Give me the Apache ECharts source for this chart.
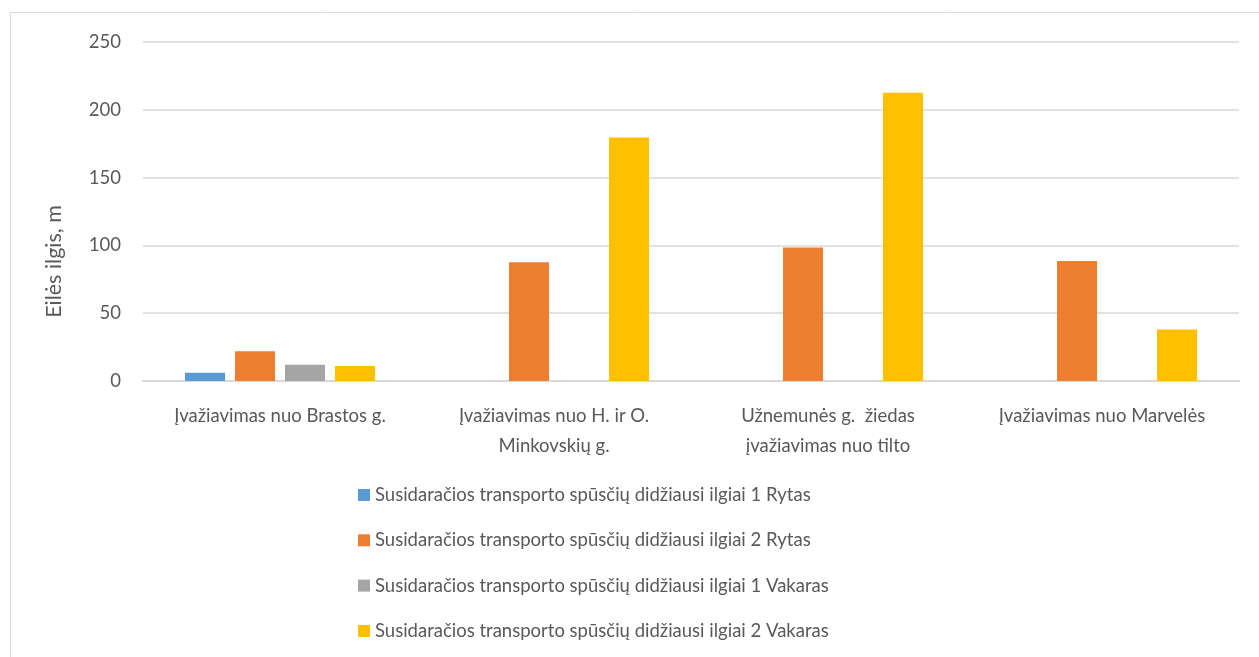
<!DOCTYPE html>
<html>
<head>
<meta charset="utf-8">
<script src="https://cdn.jsdelivr.net/npm/echarts@6/dist/echarts.min.js"></script>
<style>
html,body{margin:0;padding:0;background:#fff;}
#chart{width:1259px;height:657px;}
</style>
</head>
<body>
<div id="chart"></div>
<script>
const categories = [
  "Įvažiavimas nuo Brastos g.",
  "Įvažiavimas nuo H. ir O.\nMinkovskių g.",
  "Užnemunės g.  žiedas\nįvažiavimas nuo tilto",
  "Įvažiavimas nuo Marvelės"
];
const seriesNames = [
  "Susidaračios transporto spūsčių didžiausi ilgiai 1 Rytas",
  "Susidaračios transporto spūsčių didžiausi ilgiai 2 Rytas",
  "Susidaračios transporto spūsčių didžiausi ilgiai 1 Vakaras",
  "Susidaračios transporto spūsčių didžiausi ilgiai 2 Vakaras"
];
const rytas1 = [6, null, null, null];
const rytas2 = [22, 87.5, 98.5, 88.5];
const vakaras1 = [12, null, null, null];
const vakaras2 = [11, 179.5, 212.5, 38];
const colors = ["#5b9bd5", "#ed7d31", "#a5a5a5", "#ffc000"];
const yTicks = [0, 50, 100, 150, 200, 250];

const FONT = "Lato, 'Open Sans', sans-serif";
const chart = echarts.init(document.getElementById('chart'));
const dataSets = [rytas1, rytas2, vakaras1, vakaras2];
chart.setOption({
  animation: false,
  textStyle: {fontFamily: FONT},
  graphic: [{
    type: 'rect',
    shape: {x: 10.5, y: 12.5, width: 1300, height: 700},
    style: {fill: 'none', stroke: '#d9d9d9', lineWidth: 1},
    silent: true
  }],
  grid: {left: 143, right: 20, top: 42, bottom: 276},
  legend: {
    orient: 'vertical',
    left: 353,
    top: 480,
    itemWidth: 12,
    itemHeight: 12,
    itemGap: 25.3,
    icon: 'rect',
    textStyle: {fontFamily: FONT, fontSize: 18.5, color: '#595959', lineHeight: 20},
    data: seriesNames
  },
  xAxis: {
    type: 'category',
    data: categories,
    axisLine: {lineStyle: {color: '#d9d9d9', width: 2}},
    axisTick: {show: false},
    axisLabel: {fontFamily: FONT, fontSize: 18.5, color: '#595959', lineHeight: 30, margin: 20, interval: 0}
  },
  yAxis: {
    type: 'value',
    min: yTicks[0],
    max: yTicks[yTicks.length - 1],
    interval: 50,
    name: 'Eilės ilgis, m',
    nameLocation: 'middle',
    nameGap: 78,
    nameTextStyle: {fontFamily: FONT, fontSize: 21.5, color: '#595959', padding: [0, 100, 0, 0]},
    axisLine: {show: false},
    axisTick: {show: false},
    axisLabel: {fontFamily: FONT, fontSize: 18.5, color: '#595959', margin: 22},
    splitLine: {lineStyle: {color: '#d9d9d9', width: 1.5}}
  },
  series: seriesNames.map((n, i) => ({
    name: n,
    type: 'bar',
    data: dataSets[i],
    itemStyle: {color: colors[i]},
    barWidth: 40,
    barGap: '25%',
    barCategoryGap: '30.7%'
  }))
});
</script>
</body>
</html>
